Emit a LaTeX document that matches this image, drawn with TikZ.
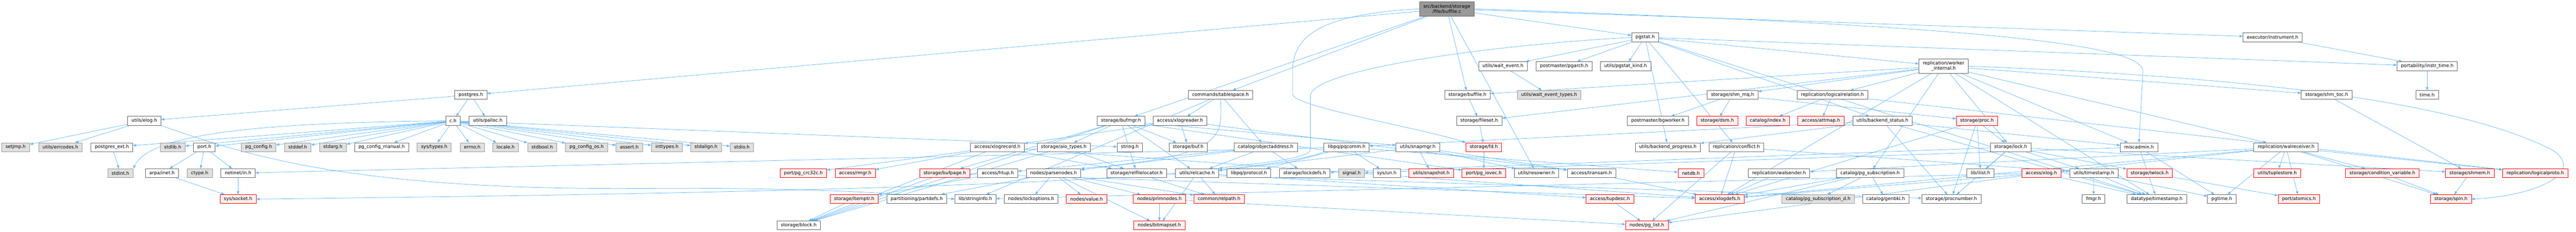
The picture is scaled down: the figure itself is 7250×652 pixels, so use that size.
\documentclass[tikz,border=0pt]{standalone}
\usepackage{fontspec}
\setmainfont{DejaVu Sans}
\usetikzlibrary{arrows.meta,backgrounds}
\definecolor{edgec}{HTML}{63B8FF}
\definecolor{bord}{HTML}{666666}
\definecolor{gbord}{HTML}{999999}
\definecolor{gfill}{HTML}{E0E0E0}
\definecolor{rfill}{HTML}{FFF0F0}
\definecolor{tfill}{HTML}{999999}
\definecolor{rbord}{HTML}{FF0000}
\begin{document}
\begin{tikzpicture}[x=1pt,y=-1pt,
  box/.style={draw=bord, fill=white, line width=1.1pt, minimum height=25pt, inner xsep=11pt, inner ysep=2pt, font=\fontsize{13}{14.5}\selectfont, anchor=center},
  wn/.style={box},
  gn/.style={box, draw=gbord, fill=gfill},
  rn/.style={box, draw=rbord, fill=rfill},
  tn/.style={box, fill=tfill, minimum height=41pt, align=center},
  tw/.style={box, minimum height=41pt, align=center},
  dep/.style={draw=edgec, line width=1.1pt, -{Triangle[length=9pt,width=7pt]}}
]
\useasboundingbox (0,0) rectangle (7250,652);
% row 0
\node[tn] (bf) at (4072,25) {src/backend/storage\\/file/buffile.c};
% row 1
\node[wn] (pgstat) at (4630,105) {pgstat.h};
\node[wn] (instr) at (6396,105) {executor/instrument.h};
% row 2
\node[wn] (waitev) at (4230,186) {utils/wait\_event.h};
\node[wn] (pgarch) at (4402,186) {postmaster/pgarch.h};
\node[wn] (pgkind) at (4575,186) {utils/pgstat\_kind.h};
\node[tw] (workint) at (5470,186) {replication/worker\\\_internal.h};
\node[wn] (instrtime) at (6831,186) {portability/instr\_time.h};
% row 3
\node[wn] (postgres) at (1325,267) {postgres.h};
\node[wn] (tblspc) at (3435,267) {commands/tablespace.h};
\node[wn] (buffileh) at (4130,267) {storage/buffile.h};
\node[gn] (wetypes) at (4360,267) {utils/wait\_event\_types.h};
\node[wn] (shmmq) at (4876,267) {storage/shm\_mq.h};
\node[wn] (logrel) at (5157,267) {replication/logicalrelation.h};
\node[wn] (shmtoc) at (6548,267) {storage/shm\_toc.h};
\node[wn] (timeh) at (6831,267) {time.h};
% row 4
\node[wn] (elog) at (406,340) {utils/elog.h};
\node[wn] (ch) at (1275,340) {c.h};
\node[wn] (palloc) at (1373,340) {utils/palloc.h};
\node[wn] (bufmgr) at (3155,340) {storage/bufmgr.h};
\node[wn] (xlogreader) at (3321,340) {access/xlogreader.h};
\node[wn] (fileset) at (4163,340) {storage/fileset.h};
\node[wn] (bgworker) at (4666,340) {postmaster/bgworker.h};
\node[rn] (dsm) at (4833,340) {storage/dsm.h};
\node[rn] (index) at (4975,340) {catalog/index.h};
\node[rn] (attmap) at (5125,340) {access/attmap.h};
\node[wn] (bkstatus) at (5298,340) {utils/backend\_status.h};
\node[rn] (proc) at (5564,340) {storage/proc.h};
% row 5
\node[gn] (setjmp) at (44,414) {setjmp.h};
\node[gn] (errcodes) at (170,414) {utils/errcodes.h};
\node[wn] (pgext) at (315,414) {postgres\_ext.h};
\node[gn] (stdlib) at (486,414) {stdlib.h};
\node[wn] (port) at (575,414) {port.h};
\node[gn] (pgconfig) at (728,414) {pg\_config.h};
\node[gn] (stddef) at (838,414) {stddef.h};
\node[gn] (stdarg) at (937,414) {stdarg.h};
\node[wn] (pgcfgman) at (1074,414) {pg\_config\_manual.h};
\node[gn] (systypes) at (1222,414) {sys/types.h};
\node[gn] (errno) at (1329,414) {errno.h};
\node[gn] (locale) at (1423,414) {locale.h};
\node[gn] (stdbool) at (1526,414) {stdbool.h};
\node[gn] (pgcfgos) at (1651,414) {pg\_config\_os.h};
\node[gn] (assert) at (1771,414) {assert.h};
\node[gn] (inttypes) at (1877,414) {inttypes.h};
\node[gn] (stdalign) at (1987,414) {stdalign.h};
\node[gn] (stdio) at (2088,414) {stdio.h};
\node[wn] (xlogrecord) at (2807,414) {access/xlogrecord.h};
\node[wn] (aiotypes) at (2994,414) {storage/aio\_types.h};
\node[wn] (string) at (3180,414) {string.h};
\node[wn] (buf) at (3344,414) {storage/buf.h};
\node[wn] (objaddr) at (3562,414) {catalog/objectaddress.h};
\node[wn] (pqcomm) at (3790,414) {libpq/pqcomm.h};
\node[wn] (snapmgr) at (3990,414) {utils/snapmgr.h};
\node[rn] (fd) at (4176,414) {storage/fd.h};
\node[wn] (bkprogress) at (4694,414) {utils/backend\_progress.h};
\node[wn] (conflict) at (4887,414) {replication/conflict.h};
\node[wn] (lock) at (5659,414) {storage/lock.h};
\node[wn] (miscadmin) at (6020,414) {miscadmin.h};
\node[wn] (walrecv) at (6434,414) {replication/walreceiver.h};
% row 6
\node[gn] (stdint) at (339,487) {stdint.h};
\node[wn] (arpainet) at (456,487) {arpa/inet.h};
\node[gn] (ctype) at (562,487) {ctype.h};
\node[wn] (netinet) at (670,487) {netinet/in.h};
\node[rn] (crc32c) at (2261,487) {port/pg\_crc32c.h};
\node[rn] (rmgr) at (2407,487) {access/rmgr.h};
\node[rn] (bufpage) at (2659,487) {storage/bufpage.h};
\node[wn] (htup) at (2808,487) {access/htup.h};
\node[wn] (parsenodes) at (2965,487) {nodes/parsenodes.h};
\node[wn] (relfileloc) at (3199,487) {storage/relfilelocator.h};
\node[wn] (relcache) at (3369,487) {utils/relcache.h};
\node[wn] (protocol) at (3515,487) {libpq/protocol.h};
\node[wn] (lockdefs) at (3672,487) {storage/lockdefs.h};
\node[gn] (signal) at (3804,487) {signal.h};
\node[wn] (sysun) at (3903,487) {sys/un.h};
\node[rn] (snapshot) at (4028,487) {utils/snapshot.h};
\node[rn] (iovec) at (4176,487) {port/pg\_iovec.h};
\node[wn] (resowner) at (4324,487) {utils/resowner.h};
\node[wn] (transam) at (4479,487) {access/transam.h};
\node[rn] (netdb) at (4759,487) {netdb.h};
\node[wn] (walsender) at (5007,487) {replication/walsender.h};
\node[wn] (pgsub) at (5263,487) {catalog/pg\_subscription.h};
\node[wn] (ilist) at (5574,487) {lib/ilist.h};
\node[rn] (xlog) at (5745,487) {access/xlog.h};
\node[wn] (utimestamp) at (5893,487) {utils/timestamp.h};
\node[rn] (lwlock) at (6050,487) {storage/lwlock.h};
\node[rn] (tuplestore) at (6409,487) {utils/tuplestore.h};
\node[rn] (condvar) at (6705,487) {storage/condition\_variable.h};
\node[rn] (shmem) at (6951,487) {storage/shmem.h};
\node[rn] (logproto) at (7135,487) {replication/logicalproto.h};
% row 7
\node[rn] (socket) at (670,560) {sys/socket.h};
\node[rn] (itemptr) at (2404,560) {storage/itemptr.h};
\node[wn] (partdefs) at (2580,560) {partitioning/partdefs.h};
\node[wn] (stringinfo) at (2745,560) {lib/stringinfo.h};
\node[wn] (lockopt) at (2902,560) {nodes/lockoptions.h};
\node[rn] (value) at (3058,560) {nodes/value.h};
\node[rn] (primnodes) at (3263,560) {nodes/primnodes.h};
\node[rn] (relpath) at (3431,560) {common/relpath.h};
\node[rn] (tupdesc) at (4531,560) {access/tupdesc.h};
\node[rn] (xlogdefs) at (4840,560) {access/xlogdefs.h};
\node[gn] (pgsubd) at (5117,560) {catalog/pg\_subscription\_d.h};
\node[wn] (genbki) at (5307,560) {catalog/genbki.h};
\node[wn] (procnumber) at (5492,560) {storage/procnumber.h};
\node[wn] (fmgr) at (5892,560) {fmgr.h};
\node[wn] (dtimestamp) at (6070,560) {datatype/timestamp.h};
\node[wn] (pgtime) at (6253,560) {pgtime.h};
\node[rn] (atomics) at (6470,560) {port/atomics.h};
\node[rn] (spin) at (6898,560) {storage/spin.h};
% row 8
\node[wn] (block) at (2248,634) {storage/block.h};
\node[rn] (bitmapset) at (3263,634) {nodes/bitmapset.h};
\node[rn] (pglist) at (4635,634) {nodes/pg\_list.h};

\begin{pgfonlayer}{background}
\foreach \s/\t in {bf/postgres, bf/tblspc, bf/bufmgr, bf/instr, bf/pgstat, bf/buffileh, bf/resowner,
postgres/ch, postgres/palloc, postgres/elog,
ch/pgext, ch/stdlib, ch/port, ch/pgconfig, ch/stddef, ch/stdarg, ch/pgcfgman, ch/systypes, ch/errno, ch/locale, ch/stdbool, ch/pgcfgos, ch/assert, ch/inttypes, ch/stdalign, ch/stdio, ch/string,
elog/setjmp, elog/errcodes,
port/arpainet, port/ctype, port/netinet, arpainet/socket, netinet/socket, pgext/stdint,
pqcomm/netinet, pqcomm/sysun, pqcomm/netdb, pqcomm/protocol,
tblspc/xlogreader, tblspc/objaddr, tblspc/stringinfo,
bufmgr/aiotypes, bufmgr/block, bufmgr/buf, bufmgr/bufpage, bufmgr/relfileloc, bufmgr/relcache, bufmgr/iovec, bufmgr/snapmgr,
aiotypes/relfileloc, aiotypes/block,
xlogrecord/rmgr, xlogrecord/crc32c, xlogrecord/block, xlogrecord/relfileloc, xlogrecord/xlogdefs,
xlogreader/xlogrecord, xlogreader/buf, xlogreader/transam,
objaddr/htup, objaddr/parsenodes, objaddr/relcache, objaddr/lockdefs,
htup/itemptr, itemptr/block, bufpage/block, bufpage/xlogdefs,
parsenodes/lockopt, parsenodes/value, parsenodes/primnodes, parsenodes/bitmapset, parsenodes/relpath, parsenodes/partdefs,
relfileloc/relpath, relfileloc/procnumber,
relcache/relpath, relcache/bitmapset, relcache/tupdesc,
primnodes/bitmapset, primnodes/pglist,
snapmgr/snapshot, snapmgr/resowner, snapmgr/transam, snapmgr/relcache,
fd/iovec, fileset/fd, buffileh/fileset, waitev/wetypes,
pgstat/waitev, pgstat/pgarch, pgstat/pgkind, pgstat/bkstatus, pgstat/bkprogress, pgstat/conflict, pgstat/workint, pgstat/instrtime, pgstat/dtimestamp,
workint/shmmq, workint/logrel, workint/shmtoc, workint/walrecv, workint/lock, workint/miscadmin, workint/dtimestamp, workint/pgsub, workint/xlogdefs, workint/fileset, workint/buffileh,
logrel/index, logrel/attmap, logrel/logproto,
shmmq/bgworker, shmmq/dsm, shmmq/proc,
shmtoc/shmem,
walrecv/tuplestore, walrecv/condvar, walrecv/logproto, walrecv/spin, walrecv/atomics, walrecv/pgtime, walrecv/xlog, walrecv/xlogdefs, walrecv/walsender,
condvar/spin, shmem/spin, instr/instrtime, instrtime/timeh,
proc/lock, proc/ilist, proc/procnumber, proc/xlogdefs,
lock/ilist, lock/lockdefs, lock/lwlock, lock/procnumber, lock/shmem, lock/utimestamp,
utimestamp/dtimestamp, utimestamp/fmgr, utimestamp/pgtime,
xlog/xlogdefs, xlog/dtimestamp, xlog/pglist, xlog/stringinfo,
miscadmin/dtimestamp, miscadmin/pgtime, miscadmin/signal,
lwlock/atomics,
bkstatus/dtimestamp, bkstatus/pqcomm, bkstatus/miscadmin, bkstatus/procnumber, bkstatus/bkprogress,
conflict/xlogdefs, conflict/pglist, conflict/utimestamp,
pgsub/xlogdefs, pgsub/genbki, pgsub/pgsubd, pgsub/pglist,
walsender/xlogdefs, tupdesc/pglist, transam/xlogdefs}
{ \draw[dep] (\s) -- (\t); }
% curved connectors
\draw[dep] (bf.west) .. controls (3700,40) and (3638,110) .. (3638,200) -- (3638,265) .. controls (3638,300) and (4000,360) .. (fd.north west);
\draw[dep] (pgstat.west) .. controls (4150,130) and (3688,200) .. (3688,270) -- (3688,420) .. controls (3688,450) and (3500,462) .. (relcache.north east);
\draw[dep] (tblspc.south) .. controls (3442,390) and (3440,440) .. (parsenodes.north east);
\draw[dep] (ch.west) .. controls (700,345) and (420,380) .. (stdint.north east);
\draw[dep] (bf.east) .. controls (5500,70) and (6031,120) .. (6031,200) -- (miscadmin.north);
\draw[dep] (workint.east) .. controls (6300,215) and (6900,280) .. (7180,420) .. controls (7280,480) and (7150,550) .. (spin.east);
\draw[dep] (elog.south east) .. controls (700,440) and (1000,535) .. (1800,530) .. controls (2300,527) and (2550,545) .. (stringinfo.west);
\draw[dep] (pqcomm.south west) .. controls (3500,520) and (2000,545) .. (socket.east);
\end{pgfonlayer}
\end{tikzpicture}
\end{document}
